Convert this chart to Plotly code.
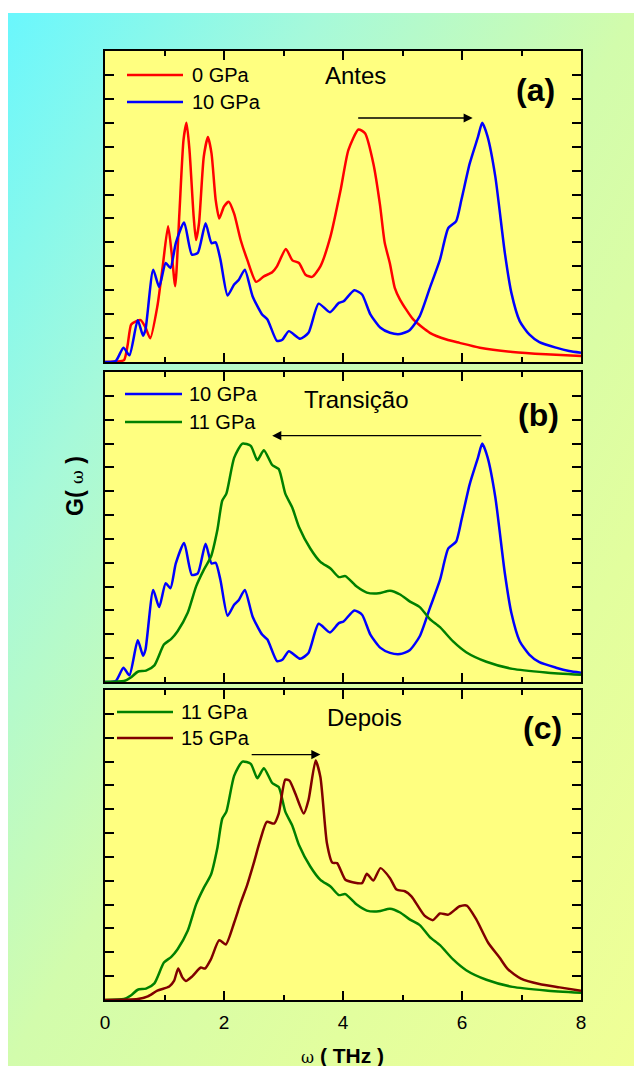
import base64
import plotly.graph_objects as go

# ---------------------------------------------------------------- data
# Phonon density of states G(omega) at several pressures, omega in THz
omega_0gpa = [0, 0.2, 0.32, 0.38, 0.44, 0.52, 0.6, 0.68, 0.76, 0.88, 0.97, 1.06, 1.12, 1.18,
              1.25, 1.32, 1.37, 1.42, 1.49, 1.53, 1.58, 1.66, 1.73, 1.79, 1.86, 1.92, 2.0,
              2.08, 2.17, 2.28, 2.39, 2.54, 2.67, 2.81, 2.89, 3.04, 3.15, 3.26, 3.37, 3.48,
              3.62, 3.79, 3.96, 4.09, 4.26, 4.37, 4.51, 4.62, 4.7, 4.79, 4.87, 4.96, 5.18,
              5.46, 5.74, 5.96, 6.3, 6.85, 7.41, 8.0]
g_0gpa = [0, 0.02, 0.08, 0.7, 1.57, 1.7, 1.75, 1.45, 0.99, 2.33, 4.0, 5.67, 4.56, 3.17,
          6.2, 9.3, 10.0, 8.86, 6.08, 5.1, 5.8, 8.58, 9.4, 8.72, 6.78, 6.0, 6.5,
          6.7, 6.2, 5.1, 4.28, 3.35, 3.58, 3.75, 4.0, 4.72, 4.25, 4.14, 3.65, 3.56,
          4.0, 5.25, 7.19, 8.86, 9.72, 9.56, 8.3, 6.6, 5.0, 4.1, 3.1, 2.6, 1.78,
          1.22, 0.94, 0.8, 0.6, 0.42, 0.32, 0.25]

omega_10gpa = [0, 0.18, 0.31, 0.41, 0.55, 0.64, 0.68, 0.81, 0.91, 1.02, 1.1, 1.19, 1.33,
               1.46, 1.56, 1.69, 1.79, 1.86, 1.94, 2.06, 2.17, 2.25, 2.35, 2.48, 2.64,
               2.73, 2.89, 2.98, 3.09, 3.28, 3.42, 3.59, 3.78, 3.93, 4.01, 4.19, 4.32,
               4.46, 4.63, 4.79, 4.96, 5.12, 5.29, 5.46, 5.63, 5.77, 5.9, 5.99, 6.13,
               6.27, 6.34, 6.43, 6.56, 6.72, 6.83, 6.97, 7.13, 7.3, 7.58, 7.8, 8.0]
g_10gpa = [0, 0.04, 0.6, 0.28, 1.75, 1.1, 1.35, 3.86, 3.14, 4.14, 3.93, 4.97, 5.83,
           4.49, 4.56, 5.8, 4.97, 5.0, 4.28, 2.78, 3.24, 3.44, 3.86, 2.75, 1.99,
           1.78, 0.88, 0.93, 1.29, 0.97, 1.22, 2.44, 2.08, 2.47, 2.54, 3.0, 2.82,
           1.99, 1.43, 1.22, 1.17, 1.33, 1.92, 3.1, 4.28, 5.6, 5.88, 6.78, 8.3,
           9.42, 10.0, 9.42, 7.75, 4.56, 2.89, 1.71, 1.15, 0.83, 0.6, 0.46, 0.39]

omega_11gpa = [0, 0.32, 0.44, 0.55, 0.69, 0.83, 0.99, 1.11, 1.22, 1.39, 1.53, 1.66, 1.78,
               1.89, 1.97, 2.04, 2.17, 2.31, 2.45, 2.56, 2.67, 2.81, 2.92, 3.03, 3.15,
               3.26, 3.45, 3.62, 3.79, 3.93, 4.04, 4.23, 4.4, 4.6, 4.79, 4.96, 5.12,
               5.29, 5.46, 5.63, 5.85, 6.07, 6.41, 6.85, 7.41, 8.0]
g_11gpa = [0, 0.04, 0.2, 0.43, 0.48, 0.7, 1.57, 1.8, 2.13, 2.9, 4.0, 4.7, 5.25,
           6.4, 7.6, 7.9, 9.4, 10.0, 9.9, 9.3, 9.72, 9.1, 8.93, 7.9, 7.3,
           6.5, 5.6, 5.04, 4.76, 4.4, 4.44, 4.0, 3.75, 3.72, 3.83, 3.67, 3.38,
           3.14, 2.64, 2.3, 1.7, 1.25, 0.85, 0.55, 0.4, 0.3]

omega_15gpa = [0, 0.55, 0.72, 0.88, 1.08, 1.16, 1.23, 1.3, 1.36, 1.47, 1.61, 1.68, 1.78,
               1.92, 2.03, 2.17, 2.28, 2.39, 2.5, 2.61, 2.72, 2.84, 2.92, 3.03, 3.1,
               3.2, 3.34, 3.42, 3.54, 3.62, 3.73, 3.82, 3.9, 4.04, 4.18, 4.32, 4.4,
               4.51, 4.63, 4.79, 4.9, 5.04, 5.15, 5.37, 5.51, 5.63, 5.77, 5.96, 6.08,
               6.24, 6.44, 6.63, 6.77, 6.99, 7.3, 7.64, 8.0]
g_15gpa = [0, 0.04, 0.15, 0.39, 0.57, 0.8, 1.32, 0.95, 0.8, 1.0, 1.36, 1.32, 1.71,
           2.51, 2.33, 3.24, 4.07, 4.83, 5.74, 6.71, 7.47, 7.4, 7.82, 9.24, 9.2,
           8.65, 7.82, 8.38, 10.04, 9.35, 6.57, 5.76, 5.74, 5.04, 4.93, 4.9, 5.29,
           5.01, 5.53, 5.11, 4.63, 4.56, 4.35, 3.54, 3.35, 3.63, 3.58, 3.93, 3.96,
           3.38, 2.4, 1.78, 1.29, 0.9, 0.67, 0.53, 0.39]

x_tick_vals = [0, 2, 4, 6, 8]
x_tick_text = ["0", "2", "4", "6", "8"]

panel_letters = ["(a)", "(b)", "(c)"]
panel_titles = ["Antes", "Transição", "Depois"]

# ---------------------------------------------------------------- styling
RED, BLUE, GREEN, MAROON = "#ff0000", "#0000ff", "#008000", "#800000"
PANEL_FILL = "#ffff80"
FONT = "Liberation Sans, Arial, sans-serif"
AXIS_LW = 2

W, H = 634, 1066
PL, PR, PT, PB = 105, 581, 51, 1000   # inner plot-area edges in pixels


def fx(px):
    return (px - PL) / (PR - PL)


def fy(py):
    return (PB - py) / (PB - PT)


# panel frames sit just outside these pixel bands
domains = [[fy(362), 1.0], [fy(682), fy(372)], [0.0, fy(690)]]

series = [
    # (panel index, omega, G, colour, label)
    (0, omega_0gpa, g_0gpa, RED, "0 GPa"),
    (0, omega_10gpa, g_10gpa, BLUE, "10 GPa"),
    (1, omega_10gpa, g_10gpa, BLUE, "10 GPa"),
    (1, omega_11gpa, g_11gpa, GREEN, "11 GPa"),
    (2, omega_11gpa, g_11gpa, GREEN, "11 GPa"),
    (2, omega_15gpa, g_15gpa, MAROON, "15 GPa"),
]

fig = go.Figure()
for idx, xs, ys, col, name in series:
    sfx = "" if idx == 0 else str(idx + 1)
    fig.add_trace(go.Scatter(
        x=xs, y=ys, mode="lines", name=name,
        line=dict(color=col, width=2.5, shape="spline", smoothing=0.6),
        xaxis="x" + sfx, yaxis="y" + sfx, showlegend=False, hoverinfo="skip",
    ))

layout = dict(
    width=W, height=H,
    margin=dict(l=PL, r=W - PR, t=PT, b=H - PB, pad=0),
    paper_bgcolor="white",
    plot_bgcolor=PANEL_FILL,
    font=dict(family=FONT, color="black"),
    showlegend=False,
)

for i in range(3):
    sfx = "" if i == 0 else str(i + 1)
    bottom = i == 2
    layout["xaxis" + sfx] = dict(
        domain=[0, 1], anchor="y" + sfx, range=[0, 8],
        tickmode="array", tickvals=x_tick_vals, ticktext=x_tick_text,
        ticks="inside", ticklen=9, tickwidth=2, tickcolor="black",
        minor=dict(dtick=1, tick0=0, ticks="inside", ticklen=5, tickwidth=2, tickcolor="black"),
        showline=True, linewidth=AXIS_LW, linecolor="black", mirror="ticks",
        showgrid=False, zeroline=False, showticklabels=bottom,
        tickfont=dict(size=19, family=FONT), ticklabelstandoff=4,
        fixedrange=True,
    )
    layout["yaxis" + sfx] = dict(
        domain=domains[i], anchor="x" + sfx, range=[0, 13],
        dtick=1, tick0=0,
        ticks="inside", ticklen=9, tickwidth=2, tickcolor="black",
        showline=True, linewidth=AXIS_LW, linecolor="black", mirror="ticks",
        showgrid=False, zeroline=False, showticklabels=False,
        fixedrange=True,
    )

fig.update_layout(**layout)

# diagonal cyan -> yellow-green backdrop behind the panels
svg = (
    '<svg xmlns="http://www.w3.org/2000/svg" width="626" height="1053" '
    'preserveAspectRatio="none" viewBox="0 0 626 1053">'
    '<defs><linearGradient id="g" x1="0" y1="0" x2="1" y2="1">'
    '<stop offset="0" stop-color="#6af7fd"/>'
    '<stop offset="0.25" stop-color="#a6f9da"/>'
    '<stop offset="0.5" stop-color="#d2fcac"/>'
    '<stop offset="0.75" stop-color="#e2fe9e"/>'
    '<stop offset="1" stop-color="#f0ff96"/>'
    '</linearGradient></defs>'
    '<rect width="626" height="1053" fill="url(#g)"/></svg>'
)
src = "data:image/svg+xml;base64," + base64.b64encode(svg.encode()).decode()
fig.add_layout_image(
    source=src, xref="paper", yref="paper",
    x=fx(8), y=fy(13), sizex=fx(W) - fx(8), sizey=fy(13) - fy(H),
    xanchor="left", yanchor="top", sizing="stretch", layer="below",
)

# yellow panel faces (kept above the backdrop)
for i in range(3):
    sfx = "" if i == 0 else str(i + 1)
    fig.add_shape(type="rect", xref=f"x{sfx} domain", yref=f"y{sfx} domain",
                  x0=0, x1=1, y0=0, y1=1, fillcolor=PANEL_FILL,
                  line=dict(width=0), layer="below")

annotations = []

# hand-drawn legends
legend_rows = [
    ((127, 183, 190), [(75, RED, "0 GPa"), (102, BLUE, "10 GPa")]),
    ((125, 182, 187), [(394, BLUE, "10 GPa"), (422, GREEN, "11 GPa")]),
    ((117, 173, 179), [(712, GREEN, "11 GPa"), (738, MAROON, "15 GPa")]),
]
for (x0, x1, xt), rows in legend_rows:
    for ypx, col, label in rows:
        fig.add_shape(type="line", xref="paper", yref="paper",
                      x0=fx(x0), x1=fx(x1), y0=fy(ypx), y1=fy(ypx),
                      line=dict(color=col, width=2.5))
        annotations.append(dict(
            text=label, xref="paper", yref="paper", x=fx(xt), y=fy(ypx),
            xanchor="left", yanchor="middle", showarrow=False,
            font=dict(size=20, family=FONT, color="black"),
        ))

# panel titles and letters
title_pos = [(355, 75), (356, 400), (364, 717)]
letter_pos = [(535, 90), (538, 415), (542, 728)]
for i in range(3):
    annotations.append(dict(
        text=panel_titles[i], xref="paper", yref="paper",
        x=fx(title_pos[i][0]), y=fy(title_pos[i][1]),
        xanchor="center", yanchor="middle", showarrow=False,
        font=dict(size=24, family=FONT, color="black"),
    ))
    annotations.append(dict(
        text="<b>" + panel_letters[i] + "</b>", xref="paper", yref="paper",
        x=fx(letter_pos[i][0]), y=fy(letter_pos[i][1]),
        xanchor="center", yanchor="middle", showarrow=False,
        font=dict(size=32, family=FONT, color="black"),
    ))

# arrows marking the shift of the main peak
arrows = [
    ("x", "y", 4.23, 6.18, 10.2),
    ("x2", "y2", 6.35, 2.81, 10.33),
    ("x3", "y3", 2.44, 3.62, 10.29),
]
for xr, yr, x_from, x_to, yv in arrows:
    annotations.append(dict(
        text="", xref=xr, yref=yr, axref=xr, ayref=yr,
        x=x_to, y=yv, ax=x_from, ay=yv,
        showarrow=True, arrowhead=2, arrowsize=1.3, arrowwidth=1.4,
        arrowcolor="black", standoff=0, startstandoff=0,
    ))

# axis titles
annotations.append(dict(
    text="<b>G(</b> <span style='font-size:17px;font-family:DejaVu Serif'>ω</span> <b>)</b>",
    xref="paper", yref="paper", x=fx(75), y=fy(486), textangle=-90,
    xanchor="center", yanchor="middle", showarrow=False,
    font=dict(size=23, family=FONT, color="black"),
))
annotations.append(dict(
    text="<span style='font-size:16px;font-family:DejaVu Serif'>ω</span> <b>( THz )</b>",
    xref="paper", yref="paper", x=fx(342), y=fy(1055),
    xanchor="center", yanchor="middle", showarrow=False,
    font=dict(size=21, family=FONT, color="black"),
))

fig.update_layout(annotations=annotations)
fig.write_html("out.html")
